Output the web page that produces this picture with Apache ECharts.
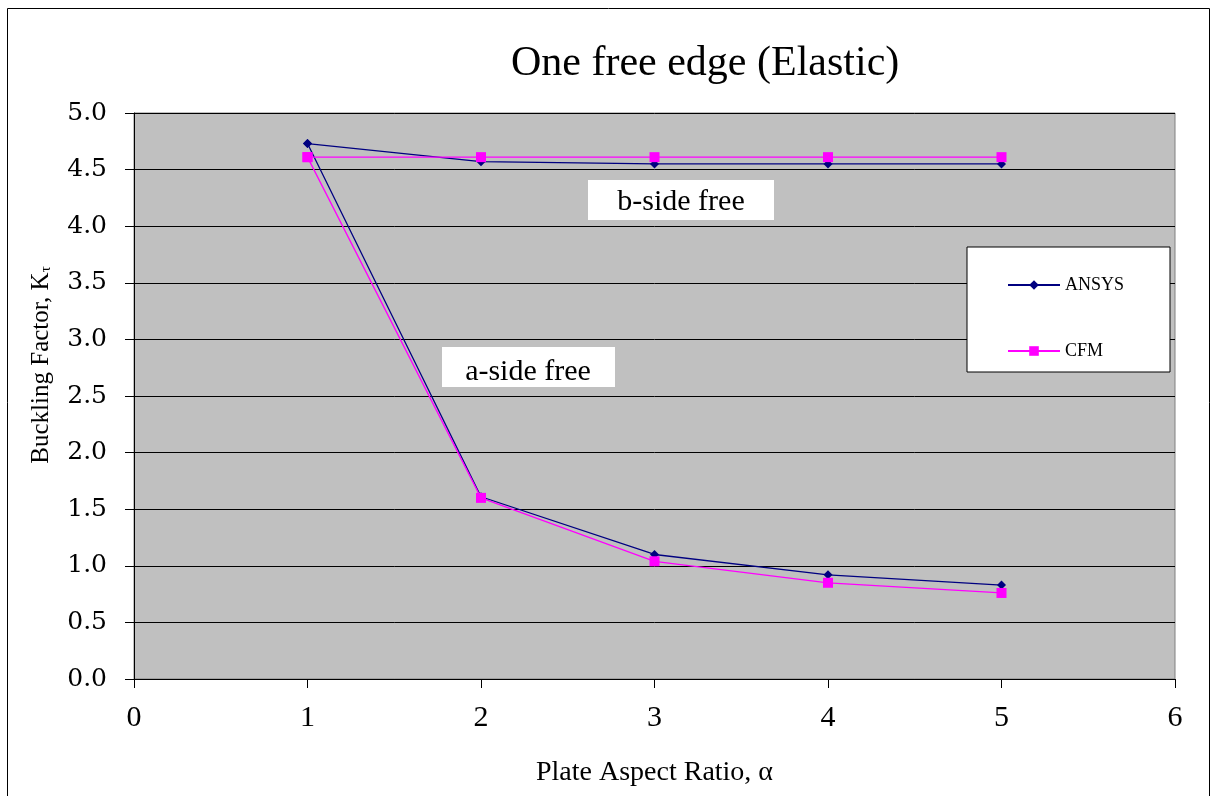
<!DOCTYPE html>
<html lang="en">
<head>
    <meta charset="UTF-8">
    <title>One free edge (Elastic)</title>
    <style>
        html, body { margin: 0; padding: 0; background: #fff; }
    </style>
</head>
<body>
<div class="main" style="width: 1212px;height: 796px;"></div>
<script src="https://cdn.jsdelivr.net/npm/echarts@6/dist/echarts.min.js"></script>
<script>
    // aspect ratios
    var ratios = [1, 2, 3, 4, 5];
    // ANSYS, b-side free / a-side free
    var ansysB = [4.73, 4.57, 4.55, 4.55, 4.55];
    var ansysA = [4.73, 1.61, 1.10, 0.92, 0.83];
    // CFM, b-side free / a-side free
    var cfmB = [4.61, 4.61, 4.61, 4.61, 4.61];
    var cfmA = [4.61, 1.60, 1.04, 0.85, 0.76];

    var FONT = "Liberation Serif";

    function pairs(xs, ys) {
        var out = [];
        for (var i = 0; i < xs.length; i++) out.push([xs[i], ys[i]]);
        return out;
    }

    var main = document.querySelector(".main");
    var chart = echarts.init(main);

    function lineSeries(name, data, color, symbol, size) {
        return {
            name: name,
            type: 'line',
            data: data,
            symbol: symbol,
            symbolSize: size,
            showSymbol: true,
            lineStyle: {color: color, width: 1.3},
            itemStyle: {color: color},
            emphasis: {disabled: true},
            z: 3
        };
    }

    var option = {
        animation: false,
        backgroundColor: '#fff',
        title: {
            text: 'One free edge (Elastic)',
            left: 506,
            top: 38,
            textStyle: {fontFamily: FONT, fontSize: 42, fontWeight: 'normal', color: '#000'}
        },
        grid: {
            left: 134, right: 37, top: 113, bottom: 117,
            show: true,
            backgroundColor: '#c0c0c0',
            borderColor: '#808080',
            borderWidth: 1
        },
        legend: {
            orient: 'vertical',
            left: 1002,
            top: 271,
            itemGap: 48,
            itemWidth: 52,
            itemHeight: 12,
            data: ['ANSYS', 'CFM'],
            textStyle: {fontFamily: FONT, fontSize: 18, color: '#000'},
            z: 6
        },
        xAxis: {
            type: 'value',
            min: 0, max: 6, interval: 1,
            name: 'Plate Aspect Ratio, α',
            nameLocation: 'middle',
            nameGap: 80,
            nameTextStyle: {fontFamily: FONT, fontSize: 28, color: '#000'},
            axisLine: {show: true, onZero: false, lineStyle: {color: '#000', width: 1}},
            axisTick: {show: true, inside: false, length: 9, lineStyle: {color: '#000'}},
            axisLabel: {fontFamily: FONT, fontSize: 30, color: '#000', margin: 24},
            splitLine: {show: false}
        },
        yAxis: {
            type: 'value',
            min: 0, max: 5, interval: 0.5,
            axisLine: {show: true, lineStyle: {color: '#000', width: 1}},
            axisTick: {show: true, inside: false, length: 9, lineStyle: {color: '#000'}},
            axisLabel: {
                fontFamily: "DejaVu Serif", fontSize: 25, color: '#000', margin: 27,
                formatter: function (v) { return v.toFixed(1); }
            },
            splitLine: {show: true, lineStyle: {color: '#000', width: 1}}
        },
        graphic: [
            {
                type: 'rect',
                shape: {x: 7.5, y: 8.5, width: 1202, height: 800},
                style: {fill: 'none', stroke: '#000', lineWidth: 1},
                silent: true,
                z: 10
            },
            {
                // y axis title
                type: 'text',
                x: 41, y: 365,
                rotation: Math.PI / 2,
                style: {
                    text: '{a|Buckling Factor, K}{s|τ}',
                    align: 'center', verticalAlign: 'middle',
                    rich: {
                        a: {fontFamily: FONT, fontSize: 25, fill: '#000'},
                        s: {fontFamily: FONT, fontSize: 15, fill: '#000', padding: [10, 0, 0, 0]}
                    }
                },
                z: 5
            },
            {
                type: 'rect',
                shape: {x: 967, y: 247, width: 203, height: 125},
                style: {fill: '#fff', stroke: '#000', lineWidth: 1},
                z: 5
            },
            {
                type: 'group',
                z: 5,
                children: [
                    {
                        type: 'rect',
                        shape: {x: 588, y: 180, width: 186, height: 40},
                        style: {fill: '#fff'}
                    },
                    {
                        type: 'text',
                        x: 681, y: 202,
                        style: {
                            text: 'b-side free', fontFamily: FONT, fontSize: 30, fill: '#000',
                            align: 'center', verticalAlign: 'middle'
                        }
                    },
                    {
                        type: 'rect',
                        shape: {x: 442, y: 347, width: 173, height: 40},
                        style: {fill: '#fff'}
                    },
                    {
                        type: 'text',
                        x: 528, y: 372,
                        style: {
                            text: 'a-side free', fontFamily: FONT, fontSize: 30, fill: '#000',
                            align: 'center', verticalAlign: 'middle'
                        }
                    }
                ]
            }
        ],
        series: [
            lineSeries('ANSYS', pairs(ratios, ansysB), '#000080', 'diamond', 9),
            lineSeries('ANSYS', pairs(ratios, ansysA), '#000080', 'diamond', 9),
            lineSeries('CFM', pairs(ratios, cfmB), '#ff00ff', 'rect', 10),
            lineSeries('CFM', pairs(ratios, cfmA), '#ff00ff', 'rect', 10)
        ]
    };

    chart.setOption(option);
    window.onresize = function () { chart.resize(); };
</script>
</body>
</html>
